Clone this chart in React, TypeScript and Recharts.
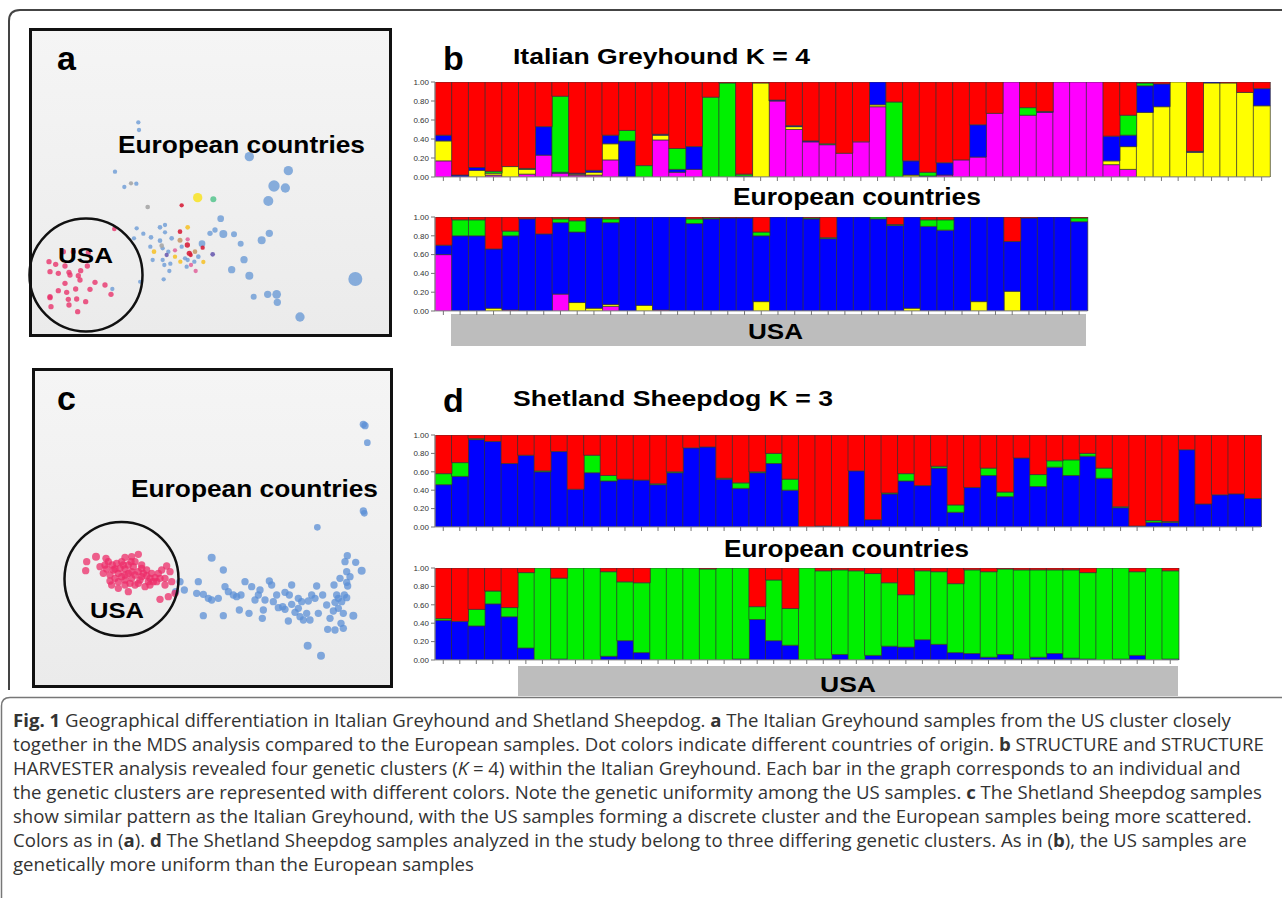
import React from 'react';
import { BarChart, Bar, XAxis, YAxis, ScatterChart, Scatter } from 'recharts';

const RED = '#ff0000';
const GREEN = '#00f000';
const BLUE = '#0000ff';
const YELLOW = '#ffff00';
const MAGENTA = '#ff00ff';

const Y_TICKS = [0, 0.2, 0.4, 0.6, 0.8, 1];

// ---- Panel b, Italian Greyhound K=4, European countries (50 individuals)
const IG_EU_MAGENTA = [.17,0,0,.02,0,.03,.23,.04,.02,.02,.18,0,0,.39,.05,.08,0,0,0,0,.80,.50,.37,.34,.25,.37,.74,0,0,0,.02,.18,.21,.67,1,.65,.68,1,1,1,.13,.08,0,0,0,0,0,0,0,0];
const IG_EU_YELLOW = [.21,0,.07,.02,.11,.05,0,0,.01,.03,.17,0,0,.05,0,0,0,0,0,.99,0,.03,0,0,0,0,.02,0,.02,0,0,0,0,0,0,0,0,0,0,0,.04,.24,.68,.74,1,.26,.99,.99,.89,.75];
const IG_EU_BLUE = [.06,.02,.03,0,0,0,.30,.01,.01,.02,.09,.38,0,.01,.03,.24,0,0,.01,0,.01,.01,.01,0,0,0,.24,0,.15,.01,.13,0,.34,0,0,0,.01,0,0,0,.26,.12,.28,.24,0,.01,.01,0,0,.18];
const IG_EU_GREEN = [0,0,0,.02,0,.01,0,.80,0,0,0,.11,.12,0,.22,0,.84,.99,.02,0,0,0,0,.01,0,0,0,.79,0,.04,0,0,0,0,0,.08,0,0,0,0,0,.21,.03,0,0,0,0,0,0,0];
const IG_EU_RED = [.56,.98,.90,.94,.89,.91,.47,.15,.96,.93,.56,.51,.88,.55,.70,.68,.16,.01,.97,.01,.19,.46,.62,.65,.75,.63,0,.21,.83,.95,.85,.82,.45,.33,0,.27,.31,0,0,0,.57,.35,.01,.02,0,.73,0,.01,.11,.07];

// ---- Panel b, Italian Greyhound K=4, USA (39 individuals)
const IG_US_MAGENTA = [.60,0,0,0,.01,0,0,.18,0,0,.05,0,0,.01,0,0,0,0,0,0,0,0,0,0,0,0,0,0,0,0,0,0,0,0,0,0,0,0,0];
const IG_US_YELLOW = [0,0,0,.03,0,0,0,0,.09,.03,.02,0,.06,0,0,0,0,0,0,.10,0,0,0,0,0,0,0,0,.03,0,0,0,.10,0,.21,0,0,0,0];
const IG_US_BLUE = [.10,.80,.80,.63,.79,.98,.82,.76,.75,.96,.87,1,.94,.99,1,.93,.98,.99,.99,.70,1,1,.98,.77,1,1,.98,.91,.97,.90,.86,1,.90,1,.53,.99,1,1,.95];
const IG_US_GREEN = [0,.17,.17,0,.05,0,0,.04,.12,0,.04,0,0,0,0,.05,.01,0,0,.04,0,0,.01,.01,0,0,.02,.01,0,.07,.11,0,0,0,0,0,0,0,.04];
const IG_US_RED = [.30,.03,.03,.34,.15,.02,.18,.02,.04,.01,.02,0,0,0,0,.02,.01,.01,.01,.16,0,0,.01,.22,0,0,0,.08,0,.03,.03,0,0,0,.26,.01,0,0,.01];

// ---- Panel d, Shetland Sheepdog K=3, European countries (50 individuals)
const SS_EU_BLUE = [.46,.55,.95,.93,.69,.78,.60,.82,.41,.59,.50,.52,.51,.46,.59,.86,.87,.52,.42,.59,.69,.40,0,.01,0,.61,.08,.36,.50,.45,.64,.16,.43,.56,.33,.75,.44,.65,.56,.77,.53,.21,.01,.05,.05,.84,.25,.35,.36,.31];
const SS_EU_GREEN = [.12,.15,.01,0,0,0,.01,0,0,.19,.06,0,0,.01,.01,0,0,.01,.06,.01,.11,.12,0,0,0,0,0,.01,.08,0,.02,.08,0,.08,.05,0,.13,.07,.17,.03,.11,.01,0,.02,.01,0,0,0,0,0];
const SS_EU_RED = [.42,.30,.04,.07,.31,.22,.39,.18,.59,.22,.44,.48,.49,.53,.40,.14,.13,.47,.52,.40,.20,.48,1,.99,1,.39,.92,.63,.42,.55,.34,.76,.57,.36,.62,.25,.43,.28,.27,.20,.36,.78,.99,.93,.94,.16,.75,.65,.64,.69];

// ---- Panel d, Shetland Sheepdog K=3, USA (45 individuals)
const SS_US_BLUE = [.43,.42,.37,.61,.47,.13,0,.01,0,0,.04,.21,.08,0,0,0,0,0,.01,.44,.21,.16,0,.01,.06,0,.05,.15,.14,.22,.17,.08,.07,.03,.06,.01,.03,.07,.02,.01,0,.01,.05,0,.01];
const SS_US_GREEN = [.02,0,.18,.14,.10,.82,1,.88,1,1,.92,.64,.76,1,1,1,.99,1,.99,.14,.66,.40,1,.96,.92,.97,.89,.69,.57,.75,.79,.75,.91,.93,.93,.97,.95,.91,.96,.94,1,.99,.91,1,.96];
const SS_US_RED = [.55,.58,.45,.25,.43,.05,0,.11,0,0,.04,.15,.16,0,0,0,.01,0,0,.42,.13,.44,0,.03,.02,.03,.06,.16,.29,.03,.04,.17,.02,.04,.01,.02,.02,.02,.02,.05,0,0,.04,0,.03];

// ---- Panel a MDS points: [dim1, dim2, size]
const A_BLUE = [[340,292,13],[342,315,13],[270,440,13],[298,486,13],[334,476,13],[335,610,13],[355,626,13],[327,640,13],[378,637,14],[405,607,14],[420,600,13],[420,622,13],[376,665,13],[405,647,14],[413,670,13],[440,640,14],[430,680,13],[383,705,13],[413,705,13],[418,720,13],[436,716,13],[433,738,13],[416,763,13],[470,665,13],[480,700,13],[485,725,13],[488,705,13],[508,710,13],[520,695,14],[345,770,12],[262,792,13],[570,615,16],[555,625,16],[587,581,20],[531,656,20],[595,627,24],[627,628,18],[647,656,18],[657,704,22],[620,734,22],[673,752,24],[710,646,24],[733,625,22],[730,528,30],[747,483,34],[781,489,28],[790,437,28],[673,395,28],[686,815,18],[728,808,22],[755,808,26],[757,832,22],[825,876,28],[991,762,42]];
const A_GRAY = [[318,475,13],[368,546,14],[410,662,14]];
const A_GOLD = [[488,607,14],[387,680,14],[450,695,13],[466,710,13],[535,711,13]];
const A_YELLOW = [[518,518,28]];
const A_GREEN = [[565,523,18]];
const A_RED = [[470,541,13],[465,620,14],[487,660,16],[493,685,16],[497,690,13],[533,668,13]];
const A_ROSE = [[488,643,13],[450,676,13],[498,720,13],[512,738,13]];
const A_BROWN = [[465,646,15],[510,680,14]];
const A_PURPLE = [[425,690,13],[563,688,14]];
const A_USA = [[268,612,14],[115,680,16],[145,680,16],[190,683,16],[72,710,16],[92,718,16],[120,723,16],[75,740,16],[100,745,16],[132,742,16],[167,737,16],[187,723,16],[160,752,16],[210,772,16],[240,780,16],[120,775,16],[100,797,16],[125,802,16],[152,792,16],[165,765,16],[195,793,16],[258,808,16],[75,818,16],[78,845,16],[130,823,16],[155,822,16],[182,830,16],[132,840,16],[158,860,16],[75,815,16],[135,750,16]];

// ---- Panel c MDS points: [dim1, dim2, size]
const C_BLUE = [[1015,178,22],[1020,182,22],[1027,233,20],[1015,438,22],[1018,445,20],[877,487,20],[967,572,22],[960,590,22],[992,592,22],[1010,617,24],[975,635,22],[965,652,22],[968,663,22],[958,690,22],[965,698,22],[940,700,22],[930,712,22],[925,738,22],[955,745,22],[985,752,24],[948,775,22],[955,790,22],[930,795,22],[908,793,22],[880,745,22],[905,720,22],[927,660,22],[875,663,22],[850,708,22],[860,690,22],[893,690,22],[820,700,22],[800,660,22],[793,690,22],[780,682,22],[773,725,22],[780,733,22],[800,718,22],[820,730,22],[825,755,22],[835,765,22],[855,765,22],[845,745,22],[790,768,22],[760,728,22],[740,660,22],[733,648,22],[720,705,22],[715,735,22],[712,760,22],[690,705,22],[680,665,22],[660,650,22],[648,690,22],[625,690,22],[610,680,22],[600,665,22],[595,615,22],[580,700,22],[560,705,22],[550,700,22],[535,688,22],[515,685,22],[520,650,22],[560,578,24],[535,752,22],[595,752,22],[672,745,22],[643,735,22],[700,690,22],[745,710,22],[848,842,24],[888,872,24],[465,650,22],[478,675,22],[452,680,22],[940,730,22],[915,760,22],[950,710,22],[935,690,22],[870,700,22],[810,742,22],[830,710,22],[635,695,22],[705,675,22],[755,690,22],[965,620,22],[945,640,22]];
const C_USA = [[185,590,22],[182,617,22],[213,575,24],[243,580,22],[240,600,22],[262,600,22],[275,595,22],[300,577,22],[320,575,22],[340,568,22],[330,590,22],[350,600,22],[235,625,22],[255,630,22],[280,625,22],[300,612,22],[320,620,22],[340,620,22],[365,615,22],[380,625,22],[400,625,22],[425,603,22],[420,640,22],[440,650,22],[255,648,22],[280,650,22],[300,645,22],[320,640,22],[345,645,22],[370,650,22],[395,650,22],[300,660,22],[330,660,22],[360,665,22],[310,680,22],[280,670,22],[420,660,22],[450,685,22],[405,703,22],[430,695,22],[435,620,22],[390,638,22],[310,600,22],[270,612,22],[225,605,22],[350,635,22],[290,635,22],[265,615,22],[315,655,22],[375,640,22],[250,590,22],[290,590,22],[310,625,22],[330,630,22],[355,625,22],[285,610,22],[300,630,22],[325,605,22],[340,655,22],[365,632,22],[385,650,22],[405,640,22],[270,640,22],[245,612,22],[295,600,22],[318,590,22],[410,615,22],[350,610,22],[260,660,22],[375,660,22]];

function rows(n: number, series: Record<string, number[]>) {
  return Array.from({ length: n }, (_, i) => {
    const r: any = { id: i + 1 };
    for (const k of Object.keys(series)) r[k] = series[k][i];
    return r;
  });
}

const dataB1 = rows(50, { m: IG_EU_MAGENTA, y: IG_EU_YELLOW, b: IG_EU_BLUE, g: IG_EU_GREEN, r: IG_EU_RED });
const dataB2 = rows(39, { m: IG_US_MAGENTA, y: IG_US_YELLOW, b: IG_US_BLUE, g: IG_US_GREEN, r: IG_US_RED });
const dataD1 = rows(50, { b: SS_EU_BLUE, g: SS_EU_GREEN, r: SS_EU_RED });
const dataD2 = rows(45, { b: SS_US_BLUE, g: SS_US_GREEN, r: SS_US_RED });

const toPts = (a: number[][]) => a.map(([x, y, d]) => ({ x, y, d }));

function StructPlot({ data, keys, colors, left, top, plotW, plotH }: any) {
  const ML = 40, MT = 4, MR = 6, XH = 10;
  return (
    <div style={{ position: 'absolute', left: left - ML, top: top - MT }}>
      <BarChart
        width={ML + plotW + MR}
        height={MT + plotH + XH}
        data={data}
        margin={{ top: MT, right: MR, left: 0, bottom: 0 }}
        barCategoryGap={0}
        barGap={0}
      >
        <XAxis dataKey="id" height={XH} interval={0} tickFormatter={() => ''} tickSize={4}
          axisLine={{ stroke: '#999' }} tickLine={{ stroke: '#777' }} />
        <YAxis width={ML} type="number" domain={[0, 1]} ticks={Y_TICKS} interval={0} allowDataOverflow
          tickFormatter={(v: number) => v.toFixed(2)}
          tick={{ fontSize: 8, fill: '#333', fontFamily: 'Liberation Sans, Arial, sans-serif' }}
          tickSize={4} tickMargin={2} axisLine={{ stroke: '#999' }} tickLine={{ stroke: '#777' }} />
        {keys.map((k: string, i: number) => (
          <Bar key={k} dataKey={k} stackId="q" fill={colors[i]} stroke="#333" strokeWidth={0.7} isAnimationActive={false} />
        ))}
      </BarChart>
    </div>
  );
}

function MdsPlot({ left, top, width, height, xDomain, yDomain, groups }: any) {
  return (
    <div style={{ position: 'absolute', left, top }}>
      <ScatterChart width={width} height={height} margin={{ top: 0, right: 0, bottom: 0, left: 0 }}>
        <XAxis type="number" dataKey="x" domain={xDomain} hide allowDataOverflow />
        <YAxis type="number" dataKey="y" domain={yDomain} hide reversed allowDataOverflow />
        {groups.map((g: any) => (
          <Scatter key={g.name} name={g.name} data={g.data} fill={g.color} isAnimationActive={false}
            shape={(p: any) => (
              <circle cx={p.cx} cy={p.cy} r={p.payload.d / 6} fill={g.color} fillOpacity={g.opacity} />
            )} />
        ))}
      </ScatterChart>
    </div>
  );
}

const groupsA = [
  { name: 'usa', data: toPts(A_USA), color: '#e8336b', opacity: 0.8 },
  { name: 'blue', data: toPts(A_BLUE), color: '#6b9bd6', opacity: 0.8 },
  { name: 'gray', data: toPts(A_GRAY), color: '#a6a6a6', opacity: 0.9 },
  { name: 'gold', data: toPts(A_GOLD), color: '#f5c22e', opacity: 0.9 },
  { name: 'yellow', data: toPts(A_YELLOW), color: '#f7e32e', opacity: 0.9 },
  { name: 'green', data: toPts(A_GREEN), color: '#5dc792', opacity: 0.9 },
  { name: 'rose', data: toPts(A_ROSE), color: '#e0609a', opacity: 0.85 },
  { name: 'brown', data: toPts(A_BROWN), color: '#c99a6a', opacity: 0.9 },
  { name: 'purple', data: toPts(A_PURPLE), color: '#6a5cb0', opacity: 0.9 },
  { name: 'red', data: toPts(A_RED), color: '#d61f3a', opacity: 0.9 },
];

const groupsC = [
  { name: 'blue', data: toPts(C_BLUE), color: '#5b8fd6', opacity: 0.75 },
  { name: 'usa', data: toPts(C_USA), color: '#ec2d6a', opacity: 0.75 },
];

const LABEL = 'Liberation Sans, Arial, Helvetica, sans-serif';

export default function App() {
  const t = (x: number, y: number, s: string, size: number, len?: number) => (
    <text x={x} y={y} fontSize={size} fontWeight="bold" fontFamily={LABEL} fill="#000"
      {...(len ? { textLength: len, lengthAdjust: 'spacingAndGlyphs' } : {})}>{s}</text>
  );
  return (
    <div style={{ position: 'absolute', left: 0, top: 0, width: 1282, height: 898, background: '#fff', overflow: 'hidden' }}>
      <svg width={1282} height={898} style={{ position: 'absolute', left: 0, top: 0 }}>
        <defs>
          <linearGradient id="bg" x1="0" y1="0" x2="0" y2="1">
            <stop offset="0" stopColor="#f5f5f5" />
            <stop offset="1" stopColor="#ebebeb" />
          </linearGradient>
        </defs>
        <path d="M9 690 L9 21 Q9 10 20 10 L1290 10" fill="none" stroke="#444" strokeWidth={2} />
        <path d="M1.5 898 L1.5 706 Q1.5 697.5 10 697.5 L1290 697.5" fill="none" stroke="#777" strokeWidth={1.5} />
        <rect x={30.5} y={29.5} width={360} height={306} fill="url(#bg)" stroke="#111" strokeWidth={3} />
        <rect x={33.5} y={369.5} width={358} height={317} fill="url(#bg)" stroke="#111" strokeWidth={3} />
        <rect x={451} y={314} width={635} height={32} fill="#bdbdbd" />
        <rect x={518} y={666} width={660} height={30} fill="#bdbdbd" />
      </svg>

      <MdsPlot left={32} top={31} width={357} height={303} xDomain={[21, 1092]} yDomain={[18, 927]} groups={groupsA} />
      <MdsPlot left={35} top={371} width={355} height={314} xDomain={[30, 1095]} yDomain={[18, 960]} groups={groupsC} />

      <StructPlot data={dataB1} keys={['m', 'y', 'b', 'g', 'r']} colors={[MAGENTA, YELLOW, BLUE, GREEN, RED]}
        left={434.5} top={82} plotW={835} plotH={95} />
      <StructPlot data={dataB2} keys={['m', 'y', 'b', 'g', 'r']} colors={[MAGENTA, YELLOW, BLUE, GREEN, RED]}
        left={434.5} top={217} plotW={652.5} plotH={94} />
      <StructPlot data={dataD1} keys={['b', 'g', 'r']} colors={[BLUE, GREEN, RED]}
        left={434.5} top={435} plotW={826} plotH={92} />
      <StructPlot data={dataD2} keys={['b', 'g', 'r']} colors={[BLUE, GREEN, RED]}
        left={434.5} top={568} plotW={743.5} plotH={92} />

      <svg width={1282} height={898} style={{ position: 'absolute', left: 0, top: 0, pointerEvents: 'none' }}>
        <circle cx={86} cy={275} r={56.5} fill="none" stroke="#111" strokeWidth={2.5} />
        <circle cx={121.5} cy={579} r={57} fill="none" stroke="#111" strokeWidth={2.5} />
        {t(57, 70, 'a', 34)}
        {t(118, 153, 'European countries', 24, 247)}
        {t(58, 263, 'USA', 22, 55)}
        {t(57, 410, 'c', 34)}
        {t(131, 497, 'European countries', 24, 247)}
        {t(90, 618, 'USA', 22, 54)}
        {t(443, 70, 'b', 34)}
        {t(513, 64, 'Italian Greyhound K = 4', 22, 297)}
        {t(733, 205, 'European countries', 23, 248)}
        {t(748, 339, 'USA', 22, 55)}
        {t(443, 412, 'd', 34)}
        {t(513, 406, 'Shetland Sheepdog K = 3', 22, 320)}
        {t(724, 557, 'European countries', 23, 245)}
        {t(820, 692, 'USA', 22, 56)}
      </svg>

      <div style={{ position: 'absolute', left: 13, top: 708, fontFamily: '"Open Sans", "Noto Sans", sans-serif', fontSize: 18.6, lineHeight: '24px', color: '#333', whiteSpace: 'nowrap' }}>
        <div><b>Fig. 1</b> Geographical differentiation in Italian Greyhound and Shetland Sheepdog. <b>a</b> The Italian Greyhound samples from the US cluster closely</div>
        <div>together in the MDS analysis compared to the European samples. Dot colors indicate different countries of origin. <b>b</b> STRUCTURE and STRUCTURE</div>
        <div>HARVESTER analysis revealed four genetic clusters (<i>K</i> = 4) within the Italian Greyhound. Each bar in the graph corresponds to an individual and</div>
        <div>the genetic clusters are represented with different colors. Note the genetic uniformity among the US samples. <b>c</b> The Shetland Sheepdog samples</div>
        <div>show similar pattern as the Italian Greyhound, with the US samples forming a discrete cluster and the European samples being more scattered.</div>
        <div>Colors as in (<b>a</b>). <b>d</b> The Shetland Sheepdog samples analyzed in the study belong to three differing genetic clusters. As in (<b>b</b>), the US samples are</div>
        <div>genetically more uniform than the European samples</div>
      </div>
    </div>
  );
}
